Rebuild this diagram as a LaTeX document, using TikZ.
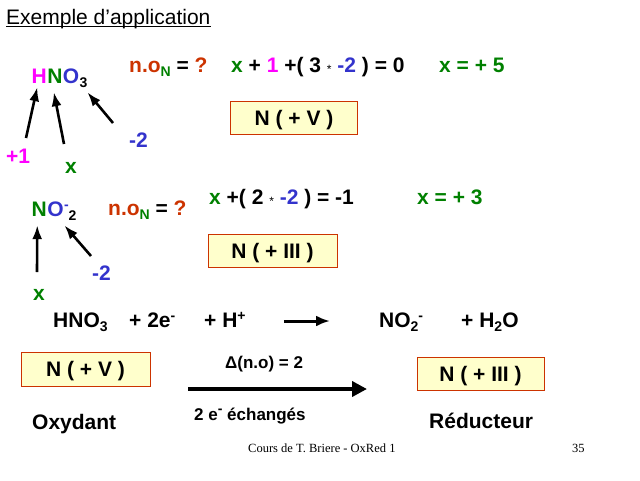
\documentclass[tikz,border=0pt]{standalone}
\usepackage{fontspec}
\setmainfont{Liberation Sans}
\newfontfamily\piedfont{Liberation Serif}
\usepackage{xcolor}
\usetikzlibrary{arrows.meta}
\usetikzlibrary{positioning, calc}

\definecolor{magH}{HTML}{FF00FF}
\definecolor{vertN}{HTML}{008000}
\definecolor{bleuO}{HTML}{3333CC}
\definecolor{rouille}{HTML}{CC3300}
\definecolor{jaune}{HTML}{FFFFCC}

\newcommand{\bas}[1]{\raisebox{-4.5pt}{\fontsize{14}{14}\selectfont #1}}
\newcommand{\haut}[1]{\raisebox{7pt}{\fontsize{14}{14}\selectfont #1}}
\newcommand{\fois}{\raisebox{-1pt}{\fontsize{12}{12}\selectfont\mdseries *}}

\begin{document}
\begin{tikzpicture}[x=1pt,y=-1pt,>={Latex[length=14pt,width=10pt]},
  txt/.style={inner sep=0pt,anchor=base west,font=\fontsize{21}{25}\selectfont\bfseries},
  petit/.style={txt,font=\fontsize{17}{20}\selectfont\bfseries},
  boite/.style={txt,anchor=center,draw=rouille,fill=jaune,line width=1pt,
    minimum height=33pt,text height=15pt,text depth=0pt},
  fleche/.style={->,line width=2.6pt}]
  \useasboundingbox (0,0) rectangle (640,480);
  % titre
  \node[txt,font=\fontsize{21}{25}\selectfont] (titre) at (6,24) {Exemple d’application};
  \draw[line width=1.5pt] ([yshift=-2.5pt]titre.base west) -- ([yshift=-2.5pt]titre.base east);

  % HNO3
  \node[txt,text=magH] (hH) at (31.5,83) {H};
  \node[txt,text=vertN] (hN) [base right=0pt of hH] {N};
  \node[txt,text=bleuO] (hO) [base right=0pt of hN] {O};
  \node[txt] (h3) [base right=0pt of hO] {\bas{3}};
  \node[txt,text=magH] (lp1) at (6,163) {+1};
  \node[txt,text=vertN] (lx1) at (65,173) {x};
  \node[txt,text=bleuO] (lm1) at (129,147) {-2};
  \coordinate (q1) at (26,138);
  \coordinate (q2) at (64,144);
  \coordinate (q3) at (113,123);
  \draw[fleche] (q1) -- ($(hH.south)+(-2,4)$);
  \draw[fleche] (q2) -- ($(hN.south)+(-1,9)$);
  \draw[fleche] (q3) -- ($(h3.south)+(4,4.5)$);

  \node[txt] (no1) at (129,72) {\textcolor{rouille}{n.o}\textcolor{vertN}{\bas{N}} = \textcolor{rouille}{?}};
  \node[txt] (eq1) at (231,72) {\textcolor{vertN}{x} + \textcolor{magH}{1} +( 3 \fois{} \textcolor{bleuO}{-2} ) = 0};
  \node[txt,text=vertN] (res1) at (439,72) {x = + 5};
  \node[boite,minimum width=127pt] (bV1) at (294,118) {N ( + V )};

  % NO2-
  \node[txt,text=vertN] (nN) at (31.5,216) {N};
  \node[txt,text=bleuO] (nO) [base right=0pt of nN] {O};
  \node[txt] (n2) [base right=0pt of nO] {\textcolor{bleuO}{\haut{-}}\bas{2}};
  \node[txt,text=bleuO] (lm2) at (92,280) {-2};
  \node[txt,text=vertN] (lx2) at (33,300) {x};
  \coordinate (q4) at (37,272);
  \coordinate (q5) at (91,256);
  \draw[fleche] (q4) -- ($(nN.south)+(-2,9)$);
  \draw[fleche] (q5) -- ($(nO.south)+(9,9)$);

  \node[txt] (no2) at (108,215) {\textcolor{rouille}{n.o}\textcolor{vertN}{\bas{N}} = \textcolor{rouille}{?}};
  \node[txt] (eq2) at (209,204) {\textcolor{vertN}{x} +( 2 \fois{} \textcolor{bleuO}{-2} ) = -1};
  \node[txt,text=vertN] (res2) at (417,204) {x = + 3};
  \node[boite,minimum width=129pt] (bIII1) at (272.5,250.5) {N ( + III )};

  % bilan
  \node[txt] (ox) at (53,327) {HNO\bas{3}};
  \node[txt] (el) at (129,327) {+ 2e\haut{-}};
  \node[txt] (hp) at (204,327) {+ H\haut{+}};
  \node[txt] (red) at (379,327) {NO\bas{2}\haut{-}};
  \node[txt] (eau) at (461,327) {+ H\bas{2}O};
  \draw[line width=3pt,-{Latex[length=14pt,width=11pt]},shorten <=38pt,shorten >=49pt]
    ([yshift=6pt]hp.base east) -- ([yshift=6pt]red.base west);

  \node[boite,minimum width=129pt,minimum height=34pt] (bV2) at (85.5,369) {N ( + V )};
  \node[petit] (delta) at (225,368) {Δ(n.o) = 2};
  \coordinate (a1) at (188,389);
  \coordinate (a2) at (367,389);
  \draw[line width=4.5pt,-{Triangle[length=15pt,width=15pt]}] (a1) -- (a2);
  \node[petit] (ech) at (194,420) {2 e\haut{-} échangés};
  \node[boite,minimum width=127pt] (bIII2) at (480.5,373.5) {N ( + III )};

  \node[txt] (oxy) at (32,429) {Oxydant};
  \node[txt] (redu) at (429,428) {Réducteur};

  \node[txt,font=\piedfont\fontsize{12.5}{15}\selectfont] (pied) at (248,452) {Cours de T. Briere - OxRed 1};
  \node[txt,font=\piedfont\fontsize{12.5}{15}\selectfont] (num) at (572,452) {35};
\end{tikzpicture}
\end{document}
